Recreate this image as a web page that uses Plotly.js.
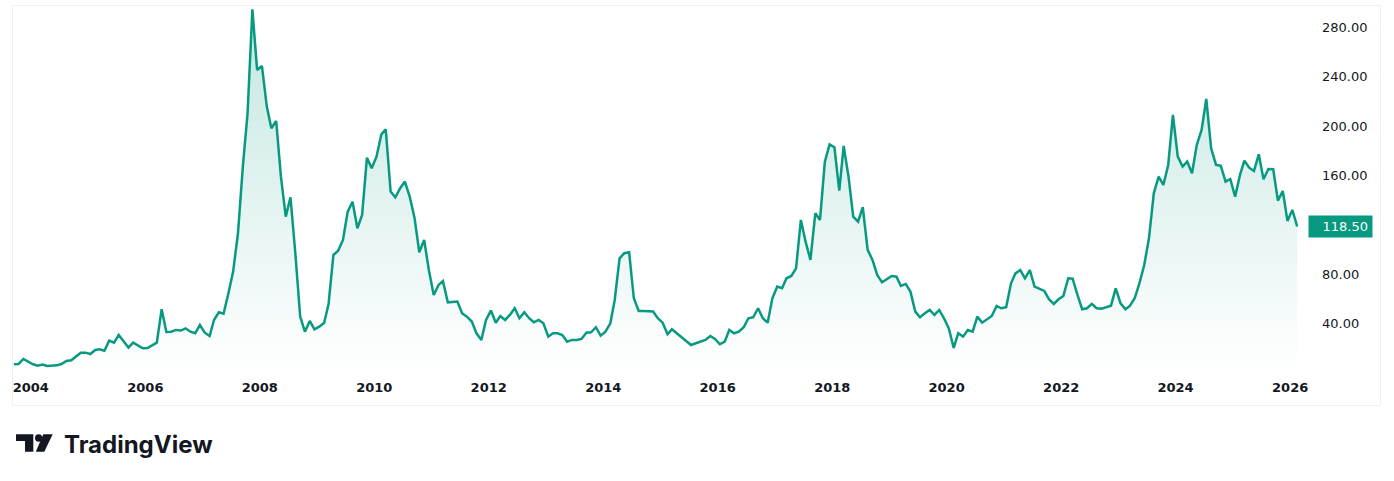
<!DOCTYPE html>
<html><head><meta charset="utf-8">
<script src="https://cdn.plot.ly/plotly-3.0.1.min.js"></script>
<style>html,body{margin:0;padding:0;background:#fff;} #chart{width:1394px;height:481px;}</style>
</head><body><div id="chart"></div>
<script>
// Monthly closes, first month = September 2003
const startYear = 2003;
const startMonthIndex = 8; // 0-based: September
const prices = [
  6.8, 7.0, 11.1, 8.9, 6.8, 5.7, 6.5, 5.4, 5.4, 5.9, 7.0, 9.5,
  10.0, 13.0, 16.2, 16.2, 15.1, 18.4, 18.9, 17.8, 25.9, 24.3, 30.5, 25.4,
  20.3, 24.3, 21.6, 19.7, 20.0, 22.2, 24.3, 51.4, 33.0, 33.2, 34.6, 34.1,
  35.9, 33.2, 31.9, 38.6, 32.4, 29.7, 42.7, 48.9, 47.8, 64.3, 81.9, 113.0,
  167, 210, 294.6, 245.4, 248.6, 215.7, 198.1, 204, 158.9, 126.5, 142.2, 96.8,
  45.4, 33.2, 41.9, 35.1, 37.3, 40.5, 55.7, 95.4, 98.9, 107.6, 130.5, 138.6,
  117, 127.8, 174.3, 165.7, 175.1, 193.2, 197.3, 146.8, 142.2, 149.5, 154.9, 142.7,
  125.1, 97.6, 107.6, 83.2, 63, 71.1, 74.3, 57, 57, 57.6, 48.1, 45.4,
  41.4, 31.9, 26.5, 42.7, 50.3, 40.5, 45.9, 42.7, 46.8, 52.2, 44.1, 48.9,
  44.1, 40.8, 42.7, 40, 29.2, 31.9, 31.9, 30.5, 25.1, 26.5, 26.5, 27.3,
  32.4, 32.7, 36.8, 30, 33.2, 40, 58.9, 92.7, 96.8, 97.6, 60.3, 50,
  50, 50, 49.5, 44.1, 40.5, 31.1, 35.1, 31.9, 28.6, 25.1, 22.4, 23.8,
  25.4, 26.5, 29.7, 27.3, 23, 25.1, 34.6, 31.9, 33.2, 36.8, 44.1, 44.9,
  52.2, 44.1, 40.5, 60.3, 69.7, 68.4, 76.5, 78.4, 84.6, 123.8, 106.2, 91.4,
  129.2, 123.8, 171.1, 185.1, 182.7, 147.6, 183.8, 158.9, 126.5, 122.4, 134.1, 99.5,
  91.4, 79.2, 73.2, 75.7, 78.4, 77.8, 70.3, 71.9, 65.7, 49.5, 44.9, 48.1,
  50.8, 46.8, 50.8, 44.1, 35.9, 20, 31.9, 29.2, 34.6, 33.2, 45.4, 40.5,
  43.2, 45.9, 54.1, 52.2, 53, 72.4, 80.5, 83.2, 76.5, 83.2, 69.7, 68.1,
  66.2, 59.5, 55.7, 59.5, 62.2, 76.5, 76.2, 63, 51.4, 52.2, 55.7, 52.2,
  51.9, 53, 54.3, 68.4, 56.2, 51.4, 54.1, 60.3, 72.4, 87.3, 108.9, 145.4,
  158.9, 152.2, 168.4, 208.9, 175.1, 167, 171.1, 161.6, 184.6, 196.8, 221.9, 181.9,
  168.4, 167.8, 154.9, 157, 142.7, 160.3, 171.9, 166.2, 163.5, 177, 156.8, 165.1,
  164.9, 139.5, 147.3, 123, 131.9, 118.5
];
const xTickYears = ['2004','2006','2008','2010','2012','2014','2016','2018','2020','2022','2024','2026'];
const yTickValues = [40, 80, 160, 200, 240, 280];
const lastPriceText = '118.50';
const brandText = 'TradingView';

const dates = prices.map((_, i) => {
  const k = startMonthIndex + i;
  const y = startYear + Math.floor(k / 12);
  const m = (k % 12) + 1;
  return y + '-' + String(m).padStart(2, '0') + '-15';
});

const W = 1394, H = 481;
const M = {l: 12, r: 86, t: 6, b: 111};
const PW = W - M.l - M.r, PH = H - M.t - M.b;
const px = x => (x - M.l) / PW;
const py = y => (H - M.b - y) / PH;
const path = pts => 'M' + pts.map(p => px(p[0]).toFixed(5) + ',' + py(p[1]).toFixed(5)).join(' L') + ' Z';

const lineColor = '#089981';
const ink = '#131722';

const trace = {
  x: dates, y: prices, type: 'scatter', mode: 'lines',
  line: {color: lineColor, width: 2.5},
  fill: 'tozeroy',
  fillgradient: {type: 'vertical', start: 0, stop: 295,
    colorscale: [[0, 'rgba(8,153,129,0)'], [1, 'rgba(8,153,129,0.24)']]},
  hoverinfo: 'skip'
};

const layout = {
  width: W, height: H,
  margin: {l: M.l, r: M.r, t: M.t, b: M.b, pad: 0},
  paper_bgcolor: '#ffffff', plot_bgcolor: '#ffffff',
  showlegend: false,
  xaxis: {
    type: 'date', range: ['2003-09-03', '2026-04-25'],
    tickvals: xTickYears.map(y => y + '-01-01'), ticktext: xTickYears,
    showgrid: false, zeroline: false, showline: false, ticks: '',
    ticklabelstandoff: 8,
    tickfont: {family: 'DejaVu Sans', size: 13, color: ink, weight: 'bold'},
    fixedrange: true
  },
  yaxis: {
    side: 'right', range: [2.13, 297.27],
    tickvals: yTickValues, tickformat: '.2f',
    showgrid: false, zeroline: false, showline: false, ticks: '',
    ticklabelstandoff: 13,
    tickfont: {family: 'DejaVu Sans', size: 13, color: ink},
    fixedrange: true
  },
  shapes: [
    {type: 'rect', xref: 'paper', yref: 'paper', x0: px(12.5), x1: px(1380.5), y0: py(405.5), y1: py(5.5),
     line: {color: '#eef0f3', width: 1}, fillcolor: 'rgba(0,0,0,0)', layer: 'below'},
    {type: 'path', xref: 'paper', yref: 'paper', line: {width: 0}, fillcolor: ink,
     path: path([[16,434.3],[33.3,434.3],[33.3,451.7],[25,451.7],[25,441],[16,441]])},
    {type: 'circle', xref: 'paper', yref: 'paper', line: {width: 0}, fillcolor: ink,
     x0: px(35), x1: px(42.3), y0: py(441.7), y1: py(434.3)},
    {type: 'path', xref: 'paper', yref: 'paper', line: {width: 0}, fillcolor: ink,
     path: path([[43.3,434.3],[52.7,434.3],[44.3,451.7],[35.8,451.7]])}
  ],
  annotations: [
    {xref: 'paper', yref: 'y', x: 1, y: prices[prices.length - 1], xanchor: 'left', yanchor: 'middle',
     text: lastPriceText, showarrow: false, align: 'right', width: 55, height: 13, borderpad: 4,
     bgcolor: lineColor, font: {family: 'DejaVu Sans', size: 13, color: '#ffffff'}},
    {xref: 'paper', yref: 'paper', x: px(62), y: py(444), xanchor: 'left', yanchor: 'middle',
     text: brandText, showarrow: false,
     font: {family: 'Inter', size: 24, color: ink, weight: 700}}
  ]
};

Plotly.newPlot('chart', [trace], layout, {displayModeBar: false, staticPlot: true});
</script>
</body></html>
